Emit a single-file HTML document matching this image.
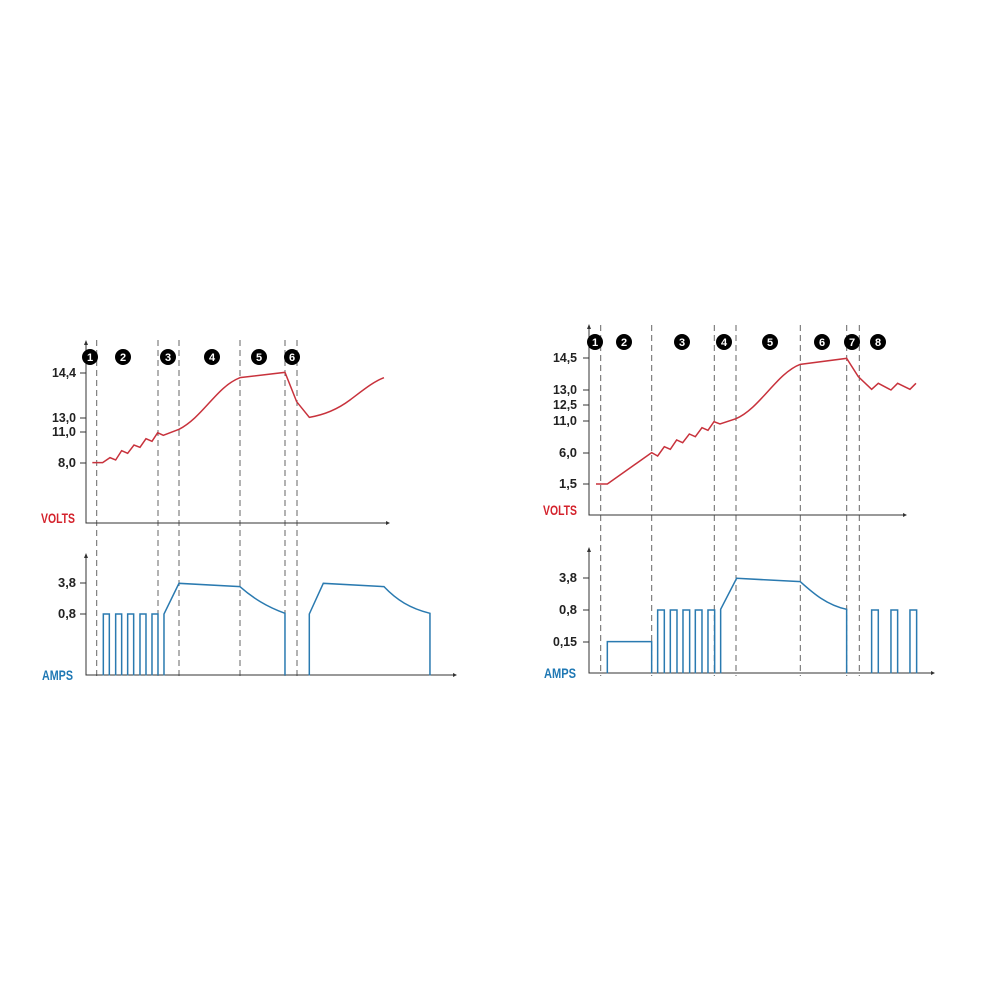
<!DOCTYPE html>
<html><head><style>
html,body{margin:0;padding:0;background:#fff;}
svg{display:block;}
text{font-family:"Liberation Sans",sans-serif;font-weight:bold;}
.ax{stroke:#333;stroke-width:1;fill:none;}
.d{stroke:#666;stroke-width:1;stroke-dasharray:6,4;fill:none;}
.r{stroke:#c8323c;stroke-width:1.5;fill:none;vector-effect:non-scaling-stroke;}
.b{stroke:#2a7ab0;stroke-width:1.5;fill:none;vector-effect:non-scaling-stroke;}
.lbl{font-size:13px;fill:#222;text-anchor:end;}
.num{font-size:11px;fill:#fff;text-anchor:middle;}
</style></head><body>
<svg width="1000" height="1000" viewBox="0 0 1000 1000" xmlns="http://www.w3.org/2000/svg">
<!-- LEFT -->
<g>
<line class="d" x1="96.7" y1="340" x2="96.7" y2="680"/>
<line class="d" x1="158" y1="340" x2="158" y2="680"/>
<line class="d" x1="179" y1="340" x2="179" y2="680"/>
<line class="d" x1="240" y1="340" x2="240" y2="680"/>
<line class="d" x1="285" y1="340" x2="285" y2="680"/>
<line class="d" x1="297" y1="340" x2="297" y2="680"/>
<path class="ax" d="M86 343 V523 H386"/><path d="M386 521 L390 523 L386 525Z M84 345 L86 340 L88 345Z" fill="#333"/>
<path class="ax" d="M86 556 V675 H453"/><path d="M453 673 L457 675 L453 677Z M84 558 L86 553 L88 558Z" fill="#333"/>
<g class="ax"><line x1="80" y1="373" x2="86" y2="373"/><line x1="80" y1="418" x2="86" y2="418"/><line x1="80" y1="432" x2="86" y2="432"/><line x1="80" y1="463" x2="86" y2="463"/><line x1="80" y1="583" x2="86" y2="583"/><line x1="80" y1="614" x2="86" y2="614"/></g>
<text class="lbl" x="76" y="377" textLength="24" lengthAdjust="spacingAndGlyphs">14,4</text><text class="lbl" x="76" y="422" textLength="24" lengthAdjust="spacingAndGlyphs">13,0</text><text class="lbl" x="76" y="436" textLength="24" lengthAdjust="spacingAndGlyphs">11,0</text><text class="lbl" x="76" y="467" textLength="18" lengthAdjust="spacingAndGlyphs">8,0</text>
<text class="lbl" x="76" y="587" textLength="18" lengthAdjust="spacingAndGlyphs">3,8</text><text class="lbl" x="76" y="618" textLength="18" lengthAdjust="spacingAndGlyphs">0,8</text>
<text x="41" y="523" style="font-size:14px;fill:#d4222c" textLength="34" lengthAdjust="spacingAndGlyphs">VOLTS</text>
<text x="42" y="680" style="font-size:14px;fill:#1f78b4" textLength="31" lengthAdjust="spacingAndGlyphs">AMPS</text>
<g transform="translate(30,330) scale(0.3333)">
<path class="r" d="M187 398 L218 398 L240 383 L257 390 L275 362 L293 370 L312 345 L330 352 L348 326 L366 334 L383 308 L400 316 L447 298 C520 260 560 170 630 143 L765 127 L800 215 L838 262 C880 255 920 240 960 210 C1000 180 1030 155 1062 143"/>
</g>
<g transform="translate(30,530) scale(0.3333)">
<path class="b" d="M220 436 V252 H238 V436 M257 436 V252 H275 V436 M293 436 V252 H311 V436 M330 436 V252 H348 V436 M366 436 V252 H384 V436 M402 436 V252 L447 160 L630 170 C670 205 710 230 765 250 V436 M838 436 V252 L880 160 L1062 170 C1100 210 1140 235 1200 250 V436"/>
</g>
<g><circle cx="90" cy="357" r="8"/><circle cx="123" cy="357" r="8"/><circle cx="168" cy="357" r="8"/><circle cx="212" cy="357" r="8"/><circle cx="259" cy="357" r="8"/><circle cx="292" cy="357" r="8"/></g>
<text class="num" x="90" y="361">1</text><text class="num" x="123" y="361">2</text><text class="num" x="168" y="361">3</text><text class="num" x="212" y="361">4</text><text class="num" x="259" y="361">5</text><text class="num" x="292" y="361">6</text>
</g>
<!-- RIGHT -->
<g>
<line class="d" x1="600.7" y1="325" x2="600.7" y2="676"/>
<line class="d" x1="651.7" y1="325" x2="651.7" y2="676"/>
<line class="d" x1="714.3" y1="325" x2="714.3" y2="676"/>
<line class="d" x1="736" y1="325" x2="736" y2="676"/>
<line class="d" x1="800.3" y1="325" x2="800.3" y2="676"/>
<line class="d" x1="846.7" y1="325" x2="846.7" y2="676"/>
<line class="d" x1="859.3" y1="325" x2="859.3" y2="676"/>
<path class="ax" d="M589 327 V515 H903"/><path d="M903 513 L907 515 L903 517Z M587 329 L589 324 L591 329Z" fill="#333"/>
<path class="ax" d="M589 550 V673 H931"/><path d="M931 671 L935 673 L931 675Z M587 552 L589 547 L591 552Z" fill="#333"/>
<g class="ax"><line x1="583" y1="358" x2="589" y2="358"/><line x1="583" y1="390" x2="589" y2="390"/><line x1="583" y1="405" x2="589" y2="405"/><line x1="583" y1="421" x2="589" y2="421"/><line x1="583" y1="453" x2="589" y2="453"/><line x1="583" y1="484" x2="589" y2="484"/><line x1="583" y1="578" x2="589" y2="578"/><line x1="583" y1="610" x2="589" y2="610"/><line x1="583" y1="642" x2="589" y2="642"/></g>
<text class="lbl" x="577" y="362" textLength="24" lengthAdjust="spacingAndGlyphs">14,5</text><text class="lbl" x="577" y="394" textLength="24" lengthAdjust="spacingAndGlyphs">13,0</text><text class="lbl" x="577" y="409" textLength="24" lengthAdjust="spacingAndGlyphs">12,5</text><text class="lbl" x="577" y="425" textLength="24" lengthAdjust="spacingAndGlyphs">11,0</text><text class="lbl" x="577" y="457" textLength="18" lengthAdjust="spacingAndGlyphs">6,0</text><text class="lbl" x="577" y="488" textLength="18" lengthAdjust="spacingAndGlyphs">1,5</text>
<text class="lbl" x="577" y="582" textLength="18" lengthAdjust="spacingAndGlyphs">3,8</text><text class="lbl" x="577" y="614" textLength="18" lengthAdjust="spacingAndGlyphs">0,8</text><text class="lbl" x="577" y="646" textLength="24" lengthAdjust="spacingAndGlyphs">0,15</text>
<text x="543" y="515" style="font-size:14px;fill:#d4222c" textLength="34" lengthAdjust="spacingAndGlyphs">VOLTS</text>
<text x="544" y="678" style="font-size:14px;fill:#1f78b4" textLength="32" lengthAdjust="spacingAndGlyphs">AMPS</text>
<g transform="translate(530,320) scale(0.3333)">
<path class="r" d="M198 492 L232 492 L365 398 L383 408 L403 380 L421 388 L440 360 L458 368 L478 342 L496 350 L516 323 L534 331 L552 305 L570 312 L618 296 C690 265 740 160 811 133 L950 115 L985 170 L1025 208 L1045 190 L1083 210 L1103 190 L1140 208 L1158 190"/>
<path class="b" d="M232 1060 V965 H365 V1060 M383 1060 V870 H403 V1060 M421 1060 V870 H441 V1060 M459 1060 V870 H479 V1060 M496 1060 V870 H516 V1060 M534 1060 V870 H554 V1060 M572 1060 V868 L620 775 L811 785 C850 820 890 855 950 868 V1060 M1025 1060 V870 H1045 V1060 M1083 1060 V870 H1103 V1060 M1140 1060 V870 H1160 V1060"/>
</g>
<g><circle cx="595" cy="342" r="8"/><circle cx="624" cy="342" r="8"/><circle cx="682" cy="342" r="8"/><circle cx="724" cy="342" r="8"/><circle cx="770" cy="342" r="8"/><circle cx="822" cy="342" r="8"/><circle cx="852" cy="342" r="8"/><circle cx="878" cy="342" r="8"/></g>
<text class="num" x="595" y="346">1</text><text class="num" x="624" y="346">2</text><text class="num" x="682" y="346">3</text><text class="num" x="724" y="346">4</text><text class="num" x="770" y="346">5</text><text class="num" x="822" y="346">6</text><text class="num" x="852" y="346">7</text><text class="num" x="878" y="346">8</text>
</g>
</svg>
</body></html>
